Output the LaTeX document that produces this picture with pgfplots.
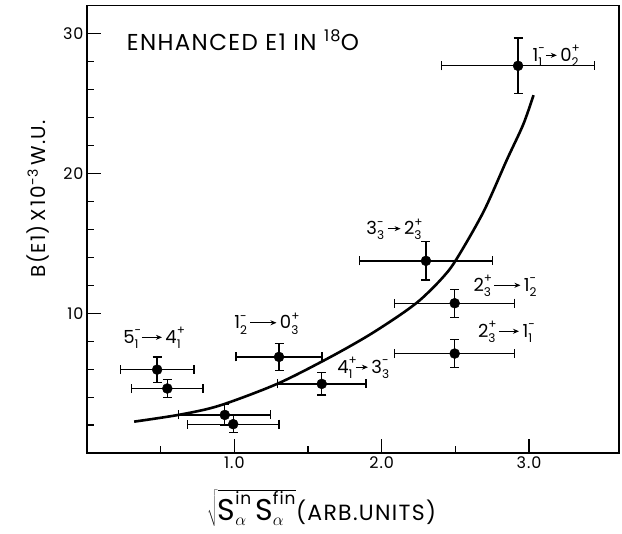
\documentclass[border=0pt]{standalone}
\usepackage{fontspec}
\setmainfont{Poppins}
\newfontfamily\lr[LetterSpace=6]{Poppins}
\usepackage{pgfplots}
\pgfplotsset{compat=1.18}
\usepackage{pgfplotstable}
\usetikzlibrary{arrows.meta}

% spin-parity level: #1 value, #2 parity, #3 index
\newcommand\lv[3]{#1\rlap{\raisebox{0.85ex}{\fontsize{12bp}{12bp}\selectfont#2}}\raisebox{-0.55ex}{\fontsize{12bp}{12bp}\selectfont#3}}
\newcommand\arr[1]{\,\tikz[baseline=-0.6ex]\draw[line width=1bp,-{Stealth[length=6bp,width=5bp]}](0,0)--(#1,0);\,}

\pgfplotstableread{
x      y      ex     ey
2.925  27.70  0.520  2.00
2.300  13.75  0.453  1.37
2.495  10.72  0.407  1.00
2.495   7.12  0.407  1.00
1.303   6.88  0.291  0.97
1.593   4.95  0.300  0.80
0.476   5.97  0.250  0.90
0.545   4.62  0.243  0.66
0.935   2.73  0.312  0.73
0.992   2.07  0.310  0.60
}\measured

\pgfplotstableread{
x     y
0.32  2.25
0.63  2.75
0.90  3.40
1.29  4.95
1.63  6.75
1.90  8.35
2.12  9.85
2.26  10.95
2.40  12.40
2.50  13.75
2.69  17.25
2.85  21.00
2.96  23.50
3.03  25.60
}\fitcurve

\begin{document}
\begin{tikzpicture}
\begin{axis}[
    name=ax,
    scale only axis,
    width=532bp, height=447.4bp,
    xmin=0, xmax=3.61, ymin=0, ymax=32,
    axis line style={line width=1.6bp},
    xtick={1,2,3}, xticklabels={1.0,2.0,3.0},
    minor xtick={0.5,1.5,2.5},
    ytick={10,20,30},
    minor ytick={2,4,6,8,12,14,16,18,22,24,26,28},
    xtick pos=bottom, ytick pos=left,
    tick align=inside,
    major tick length=14bp, minor tick length=7bp,
    every tick/.style={line width=1.3bp, black},
    tick label style={font=\lr\fontsize{16bp}{18bp}\selectfont},
    /pgf/number format/assume math mode=true,
    clip=false,
]
\addplot[line width=2.6bp, smooth] table {\fitcurve};
\addplot[only marks, mark=*, mark size=5bp, black,
    error bars/.cd, x dir=both, x explicit, y dir=both, y explicit,
    error bar style={line width=1.3bp},
    error mark=|,
    error mark options={line width=1.3bp, mark size=4.5bp}]
    table[x=x, y=y, x error=ex, y error=ey] {\measured};

\node[anchor=base west, font=\lr\fontsize{23bp}{25bp}\selectfont, inner sep=0pt] at (axis cs:0.269,28.83)
    {ENHANCED E1 IN \textsuperscript{18}O};
\begin{scope}[every node/.style={font=\fontsize{18bp}{20bp}\selectfont, inner sep=0pt}]
\node at (axis cs:3.18,28.4) {\lv{1}{-}{1}\arr{11bp}\lv{0}{+}{2}};
\node at (axis cs:2.083,16.0) {\lv{3}{-}{3}\arr{13bp}\lv{2}{+}{3}};
\node at (axis cs:2.837,11.95) {\lv{2}{+}{3}\arr{26bp}\lv{1}{-}{2}};
\node at (axis cs:2.837,8.66) {\lv{2}{+}{3}\arr{20bp}\lv{1}{-}{1}};
\node at (axis cs:1.217,9.27) {\lv{1}{-}{2}\arr{26bp}\lv{0}{+}{3}};
\node at (axis cs:1.874,6.09) {\lv{4}{+}{1}\arr{12bp}\lv{3}{-}{3}};
\node at (axis cs:0.441,8.23) {\lv{5}{-}{1}\arr{20bp}\lv{4}{+}{1}};
\end{scope}

\node[rotate=90, font=\lr\fontsize{20bp}{22bp}\selectfont] at (axis cs:-0.333,18.2)
    {B(E1)\,X\,10\textsuperscript{-3}\,W.U.};
\node[anchor=base west, font=\lr\fontsize{22bp}{24bp}\selectfont, inner sep=0pt] at (axis cs:0.814,-4.8)
    {$\sqrt{\mbox{\fontsize{30bp}{30bp}\selectfont S}_{\mbox{\fontsize{18bp}{18bp}\selectfont$\alpha$}}^{\mbox{\fontsize{17bp}{17bp}\selectfont in}}
      \,\mbox{\fontsize{30bp}{30bp}\selectfont S}_{\mbox{\fontsize{18bp}{18bp}\selectfont$\alpha$}}^{\mbox{\fontsize{17bp}{17bp}\selectfont fin}}}$(ARB.UNITS)};
\end{axis}
\pgfresetboundingbox
\path[use as bounding box] ([xshift=-87bp,yshift=-80bp]ax.south west) rectangle ([xshift=3bp,yshift=5.7bp]ax.north east);
\end{tikzpicture}
\end{document}
